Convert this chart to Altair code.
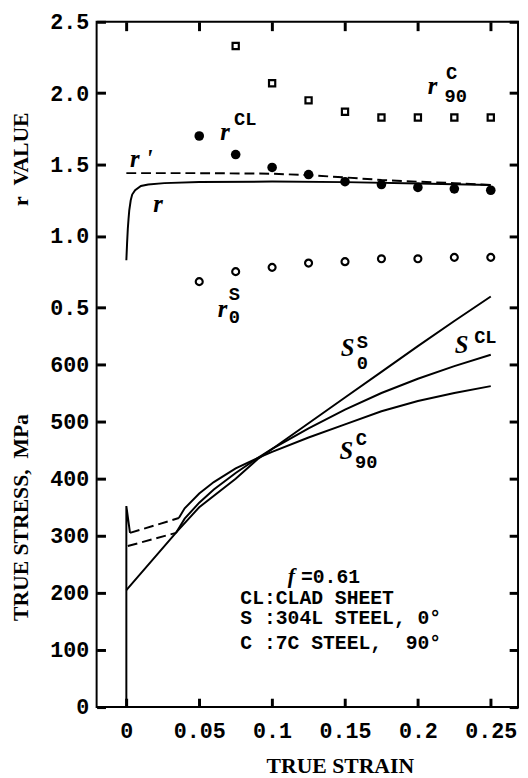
import altair as alt
import pandas as pd

# ---------------- axis tick values ----------------
strain_ticks = [0, 0.05, 0.1, 0.15, 0.2, 0.25]
r_ticks = [0.5, 1.0, 1.5, 2.0, 2.5]
stress_ticks = [0, 100, 200, 300, 400, 500, 600]

# ---------------- r values (upper part) ----------------
pt_strain = [0.05, 0.075, 0.1, 0.125, 0.15, 0.175, 0.2, 0.225, 0.25]
r_clad = [1.70, 1.57, 1.48, 1.43, 1.38, 1.36, 1.34, 1.33, 1.32]
r0_s304 = [0.68, 0.75, 0.78, 0.81, 0.82, 0.84, 0.84, 0.85, 0.85]
sq_strain = [0.075, 0.1, 0.125, 0.15, 0.175, 0.2, 0.225, 0.25]
r90_c7 = [2.33, 2.07, 1.95, 1.87, 1.83, 1.83, 1.83, 1.83]

r_strain = [0, 0.0005, 0.001, 0.0015, 0.002, 0.003, 0.004, 0.006, 0.01, 0.015,
            0.026, 0.05, 0.1, 0.15, 0.2, 0.25]
r_curve = [0.83, 0.95, 1.05, 1.12, 1.18, 1.25, 1.29, 1.32, 1.35, 1.36,
           1.37, 1.378, 1.381, 1.377, 1.368, 1.357]
rp_strain = [0, 0.05, 0.1, 0.125, 0.15, 0.175, 0.2, 0.225, 0.25]
rp_curve = [1.44, 1.44, 1.436, 1.426, 1.41, 1.392, 1.38, 1.37, 1.357]

# ---------------- true stress curves (lower part) ----------------
s0s_strain = [0, 0.035, 0.05, 0.075, 0.09, 0.1, 0.125, 0.15, 0.175, 0.2, 0.225, 0.25]
s0s_stress = [205, 308, 350, 400, 434, 452, 497, 542, 587, 632, 676, 719]

scl_dash_strain = [0.001, 0.034]
scl_dash_stress = [282, 305]
scl_strain = [0.034, 0.04, 0.05, 0.06, 0.075, 0.09, 0.1, 0.125, 0.15, 0.175, 0.2, 0.225, 0.25]
scl_stress = [305, 330, 358, 381, 410, 436, 452, 488, 521, 550, 575, 597, 617]

c90_yield_strain = [0, 0, 0.0025]
c90_yield_stress = [0, 352, 305]
c90_dash_strain = [0.0025, 0.036]
c90_dash_stress = [305, 331]
c90_strain = [0.036, 0.04, 0.05, 0.06, 0.075, 0.09, 0.1, 0.125, 0.15, 0.175, 0.2, 0.225, 0.25]
c90_stress = [331, 348, 374, 394, 418, 436, 447, 472, 495, 518, 536, 550, 562]

# ---------------- annotation labels (anchor in data units) ----------------
r_sym_text = ["r '", "r", "r", "r", "r"]
r_sym_x = [0.0102, 0.0218, 0.0677, 0.066, 0.210]
r_sym_y = [1.54, 1.22, 1.73, 0.49, 2.05]
r_idx_text = ["CL", "S", "0", "C", "90"]
r_idx_x = [0.0816, 0.0741, 0.0741, 0.2231, 0.2259]
r_idx_y = [1.82, 0.59, 0.43, 2.14, 1.98]

s_sym_text = ["S", "S", "S"]
s_sym_x = [0.1517, 0.2299, 0.151]
s_sym_y = [628, 633, 448]
f_text = ["f"]
f_x = [0.1132]
f_y = [229]
s_idx_text = ["S", "0", "CL", "C", "90"]
s_idx_x = [0.1619, 0.1619, 0.2463, 0.1612, 0.1646]
s_idx_y = [640, 603, 648, 469, 429]

note_text = ["=0.61", "CL:CLAD SHEET", "S :304L STEEL, 0°", "C :7C STEEL,\u00a0\u00a090°"]
note_x = [0.1198, 0.0782, 0.0782, 0.0782]
note_y = [228, 191, 155, 112]


def df(xs, ys, texts=None):
    d = pd.DataFrame({"strain": xs, "val": ys, "i": list(range(len(xs)))})
    if texts is not None:
        d["t"] = texts
    return d


X = alt.Scale(domain=[-0.0204, 0.2687], nice=False, zero=False)
YS = alt.Scale(domain=[0, 1200], nice=False, zero=False)
YR = alt.Scale(domain=[-2.3, 2.5], nice=False, zero=False)

# inward ticks: axis line moved inside the frame, ticks run back out to the frame
TICKS = dict(domain=False, grid=False, ticks=True, offset=-9, tickSize=9, tickWidth=3,
             tickColor="black", labelFlush=False, labelOverlap=False)

x_bottom = alt.Axis(orient="bottom", values=strain_ticks, format="~g", labelPadding=14,
                    title="TRUE STRAIN", titleX=247, titlePadding=14, **TICKS)
x_top = alt.Axis(orient="top", values=strain_ticks, labels=False, title=None, **TICKS)
ys_left = alt.Axis(orient="left", values=stress_ticks, format="d", labelPadding=8,
                   title="TRUE\u00a0STRESS,\u00a0\u00a0MPa", titleY=503, titlePadding=18, **TICKS)
ys_right = alt.Axis(orient="right", values=stress_ticks, labels=False, title=None, **TICKS)
yr_left = alt.Axis(orient="left", values=r_ticks, format=".1f", labelPadding=8,
                   title="r\u00a0\u00a0VALUE", titleY=139, titlePadding=18, **TICKS)
yr_right = alt.Axis(orient="right", values=r_ticks, labels=False, title=None, **TICKS)


def line(d, yscale, dash=None, xaxis=None, yaxis=None):
    kw = dict(color="black", strokeWidth=2)
    if dash is not None:
        kw["strokeDash"] = dash
    return alt.Chart(d).mark_line(**kw).encode(
        x=alt.X("strain:Q", scale=X, axis=xaxis),
        y=alt.Y("val:Q", scale=yscale, axis=yaxis),
        order=alt.Order("i:Q"),
    )


def points(d, yscale, **mk):
    return alt.Chart(d).mark_point(color="black", opacity=1, **mk).encode(
        x=alt.X("strain:Q", scale=X, axis=None),
        y=alt.Y("val:Q", scale=yscale, axis=None),
    )


def text(d, yscale, font, size, style="normal", align="center"):
    return alt.Chart(d).mark_text(font=font, fontSize=size, fontStyle=style,
                                  fontWeight="bold", align=align, baseline="middle",
                                  color="black").encode(
        x=alt.X("strain:Q", scale=X, axis=None),
        y=alt.Y("val:Q", scale=yscale, axis=None),
        text="t:N",
    )


SERIF = "Liberation Serif"
MONO = "Liberation Mono"

stress_group = alt.layer(
    line(df(s0s_strain, s0s_stress), YS, xaxis=x_bottom, yaxis=ys_left),
    line(df(scl_strain, scl_stress), YS, xaxis=x_top, yaxis=ys_right),
    line(df(c90_strain, c90_stress), YS),
    line(df(c90_yield_strain, c90_yield_stress), YS),
    line(df(scl_dash_strain, scl_dash_stress), YS, dash=[10, 5]),
    line(df(c90_dash_strain, c90_dash_stress), YS, dash=[10, 5]),
    text(df(s_sym_x, s_sym_y, s_sym_text), YS, SERIF, 25, style="italic"),
    text(df(f_x, f_y, f_text), YS, SERIF, 22, style="italic"),
    text(df(s_idx_x, s_idx_y, s_idx_text), YS, MONO, 19),
    text(df(note_x, note_y, note_text), YS, MONO, 20, align="left"),
).resolve_axis(x="independent", y="independent")

r_group = alt.layer(
    line(df(r_strain, r_curve), YR, yaxis=yr_left),
    line(df(rp_strain, rp_curve), YR, dash=[10, 5], yaxis=yr_right),
    points(df(pt_strain, r_clad), YR, shape="circle", filled=True, size=95),
    points(df(pt_strain, r0_s304), YR, shape="circle", filled=False, size=50, strokeWidth=2.2),
    points(df(sq_strain, r90_c7), YR, shape="square", filled=False, size=40, strokeWidth=2.2),
    text(df(r_sym_x, r_sym_y, r_sym_text), YR, SERIF, 25, style="italic"),
    text(df(r_idx_x, r_idx_y, r_idx_text), YR, MONO, 19),
).resolve_axis(x="independent", y="independent")

chart = (
    alt.layer(stress_group, r_group)
    .resolve_scale(y="independent")
    .resolve_axis(x="independent", y="independent")
    .properties(
        width=428,
        height=696,
        padding={"left": 90, "top": 8, "right": 2, "bottom": 66},
        autosize=alt.AutoSizeParams(type="none"),
        background="white",
    )
    .configure_view(stroke="black", strokeWidth=2)
    .configure_axis(
        labelFont=MONO, labelFontSize=22, labelFontWeight="bold", labelColor="black",
        titleFont=SERIF, titleFontSize=22, titleFontWeight="bold", titleColor="black",
    )
)

chart.save("out.html", embed_options={"renderer": "svg", "actions": False})
